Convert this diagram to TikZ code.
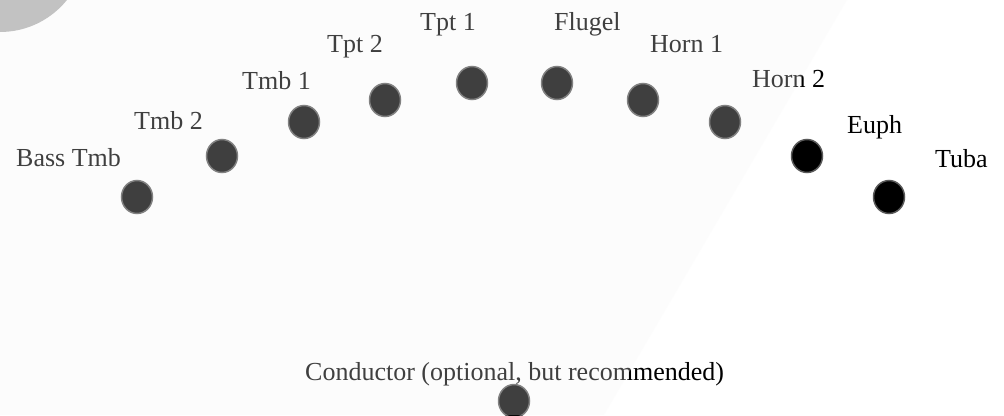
\documentclass[tikz,border=0pt]{standalone}
\usepackage{fontspec}
\setmainfont{Liberation Serif}
\usetikzlibrary{shapes.geometric}

\begin{document}
\begin{tikzpicture}[x=1pt, y=-1pt,
    seat/.style={ellipse, draw=black!65, fill=black, line width=1.5pt,
                 minimum width=31pt, minimum height=33pt, inner sep=0pt},
    part/.style={anchor=base west, inner sep=0pt,
                 font=\fontsize{26pt}{30pt}\selectfont}]
                % Page
                \useasboundingbox (0,0) rectangle (1004,415);
                \clip (0,0) rectangle (1004,415);
                \fill[white] (0,0) rectangle (1004,415);
                \fill[black!31] (0,-54) circle[radius=86pt];

                % Seats
                \node[seat] (basstmb) at (137,197) {};
                \node[seat] (tmb2)    at (222,156) {};
                \node[seat] (tmb1)    at (304,122) {};
                \node[seat] (tpt2)    at (385,100) {};
                \node[seat] (tpt1)    at (472,83)  {};
                \node[seat] (flugel)  at (557,83)  {};
                \node[seat] (horn1)   at (643,100) {};
                \node[seat] (horn2)   at (725,122) {};
                \node[seat] (euph)    at (807,156) {};
                \node[seat] (tuba)    at (889,197) {};
                \node[seat] (cond)    at (514,401) {};

                % Parts
                \node[part] (basstmb-l) at (16,166)  {Bass Tmb};
                \node[part] (tmb2-l)    at (134,129) {Tmb 2};
                \node[part] (tmb1-l)    at (242,89)  {Tmb 1};
                \node[part] (tpt2-l)    at (327,52)  {Tpt 2};
                \node[part] (tpt1-l)    at (420,30)  {Tpt 1};
                \node[part] (flugel-l)  at (554,30)  {Flugel};
                \node[part] (horn1-l)   at (650,52)  {Horn 1};
                \node[part] (horn2-l)   at (752,87)  {Horn 2};
                \node[part] (euph-l)    at (847,133) {Euph};
                \node[part] (tuba-l)    at (935,167) {Tuba};
                \node[part] (cond-l)    at (305,380) {Conductor (optional, but recommended)};

                % Faint sheet over the left side
                \fill[white!97!black, opacity=0.26] (0,0) -- (847,0) -- (604,415) -- (0,415) -- cycle;
            \end{tikzpicture}
\end{document}
